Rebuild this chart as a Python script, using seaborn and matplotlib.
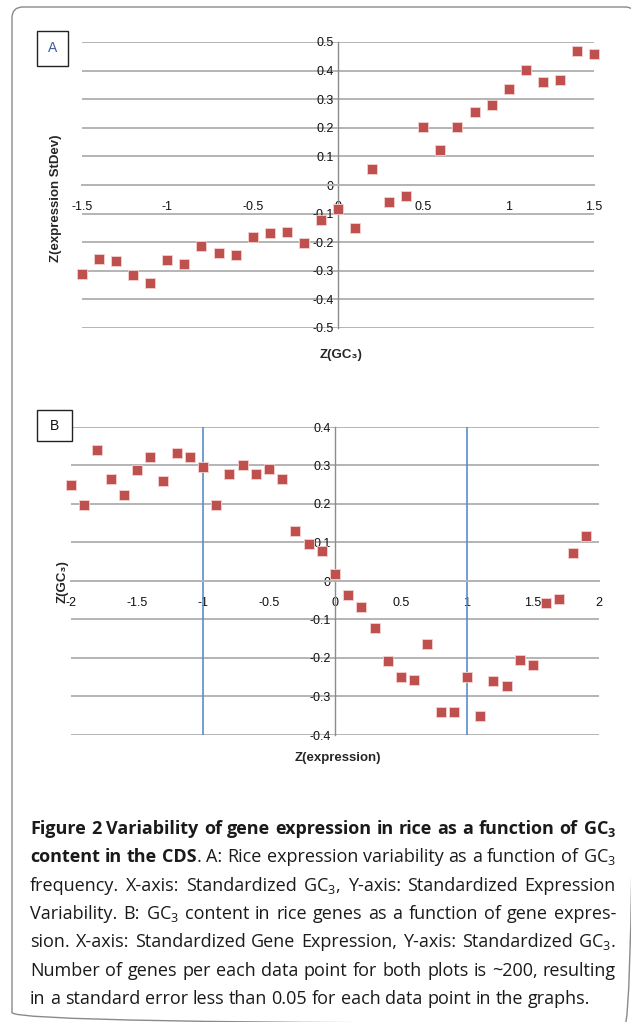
import matplotlib
matplotlib.use("Agg")
import matplotlib.pyplot as plt
import matplotlib.patches as mpatches
from matplotlib.ticker import FuncFormatter, FixedLocator
import seaborn as sns
import pandas as pd

# ---------------- data ----------------
a_gc3 = [-1.5, -1.4, -1.3, -1.2, -1.1, -1.0, -0.9, -0.8, -0.7, -0.6, -0.5, -0.4, -0.3, -0.2, -0.1,
         0.0, 0.1, 0.2, 0.3, 0.4, 0.5, 0.6, 0.7, 0.8, 0.9, 1.0, 1.1, 1.2, 1.3, 1.4, 1.5]
a_stdev = [-0.310, -0.258, -0.267, -0.313, -0.341, -0.263, -0.275, -0.212, -0.237, -0.245, -0.182,
           -0.169, -0.163, -0.203, -0.123, -0.083, -0.151, 0.057, -0.060, -0.039, 0.202, 0.123,
           0.202, 0.254, 0.281, 0.337, 0.403, 0.359, 0.366, 0.467, 0.459]

b_expr = [-2.0, -1.9, -1.8, -1.7, -1.6, -1.5, -1.4, -1.3, -1.2, -1.1, -1.0, -0.9, -0.8, -0.7, -0.6,
          -0.5, -0.4, -0.3, -0.2, -0.1, 0.0, 0.1, 0.2, 0.3, 0.4, 0.5, 0.6, 0.7, 0.8, 0.9, 1.0, 1.1,
          1.2, 1.3, 1.4, 1.5, 1.6, 1.7, 1.8, 1.9]
b_gc3 = [0.249, 0.198, 0.339, 0.265, 0.224, 0.289, 0.322, 0.260, 0.333, 0.323, 0.296, 0.198, 0.279,
         0.302, 0.279, 0.292, 0.266, 0.130, 0.097, 0.077, 0.017, -0.036, -0.067, -0.122, -0.207,
         -0.250, -0.257, -0.164, -0.339, -0.340, -0.250, -0.350, -0.260, -0.272, -0.205, -0.217,
         -0.056, -0.048, 0.072, 0.118]

a_xticks = [-1.5, -1.0, -0.5, 0.0, 0.5, 1.0, 1.5]
a_yticks = [-0.5, -0.4, -0.3, -0.2, -0.1, 0.0, 0.1, 0.2, 0.3, 0.4, 0.5]
b_xticks = [-2.0, -1.5, -1.0, -0.5, 0.0, 0.5, 1.0, 1.5, 2.0]
b_yticks = [-0.4, -0.3, -0.2, -0.1, 0.0, 0.1, 0.2, 0.3, 0.4]
b_vlines = [-1.0, 1.0]

a_xlabel = "Z(GC\u2083)"
a_ylabel = "Z(expression StDev)"
b_xlabel = "Z(expression)"
b_ylabel = "Z(GC\u2083)"

caption_lines = [
    [("Figure 2 Variability of gene expression in rice as a function of GC$_\\mathbf{3}$", "bold")],
    [("content in the CDS", "bold"), (". A: Rice expression variability as a function of GC$_3$", "normal")],
    [("frequency. X-axis: Standardized GC$_3$, Y-axis: Standardized Expression", "normal")],
    [("Variability. B: GC$_3$ content in rice genes as a function of gene expres-", "normal")],
    [("sion. X-axis: Standardized Gene Expression, Y-axis: Standardized GC$_3$.", "normal")],
    [("Number of genes per each data point for both plots is ~200, resulting", "normal")],
    [("in a standard error less than 0.05 for each data point in the graphs.", "normal")],
]

# ---------------- style ----------------
sns.set_style("white")
CHART_FONT = ["Liberation Sans", "DejaVu Sans"]
CAP_FONT = ["Open Sans", "DejaVu Sans"]
plt.rcParams["font.family"] = CHART_FONT
plt.rcParams["mathtext.fontset"] = "custom"
plt.rcParams["mathtext.rm"] = "Open Sans"
plt.rcParams["mathtext.it"] = "Open Sans:italic"
plt.rcParams["mathtext.bf"] = "Open Sans:bold"

W, H = 631, 1022
fig = plt.figure(figsize=(W / 100, H / 100), dpi=100, facecolor="white")

# background overlay axes in pixel coordinates
bg = fig.add_axes([0, 0, 1, 1], zorder=-5)
bg.set_xlim(0, W)
bg.set_ylim(H, 0)
bg.axis("off")

frame = mpatches.FancyBboxPatch((12, 7), 624, 1016.5, boxstyle="round,pad=0,rounding_size=11",
                                fc="none", ec="#8a8a8a", lw=1.0)
bg.add_patch(frame)

GRID = "#b4b4b4"
AXIS = "#8c8c8c"
MARK = "#c0504d"
fmt = FuncFormatter(lambda v, p: ("%g" % round(v, 2)))


def style_axes(ax, xlim, ylim, xt, yt):
    ax.set_xlim(*xlim)
    ax.set_ylim(*ylim)
    ax.set_facecolor("none")
    ax.xaxis.set_major_locator(FixedLocator(xt))
    ax.yaxis.set_major_locator(FixedLocator(yt))
    ax.xaxis.set_major_formatter(fmt)
    ax.yaxis.set_major_formatter(fmt)
    ax.yaxis.grid(True, color=GRID, lw=1.4, zorder=0)
    ax.xaxis.grid(False)
    for s in ["top", "right"]:
        ax.spines[s].set_visible(False)
    ax.spines["left"].set_position(("data", 0))
    ax.spines["bottom"].set_position(("data", 0))
    ax.spines["left"].set_color(AXIS)
    ax.spines["left"].set_linewidth(1.0)
    ax.spines["bottom"].set_color(GRID)
    ax.spines["bottom"].set_linewidth(1.4)
    ax.tick_params(axis="x", length=0, pad=11.5, labelsize=9, labelcolor="#111111")
    ax.tick_params(axis="y", length=0, pad=3, labelsize=9, labelcolor="#111111")
    ax.set_xlabel("")
    ax.set_ylabel("")


def px_axes(x0, x1, ytop, ybot):
    return fig.add_axes([x0 / W, 1 - ybot / H, (x1 - x0) / W, (ybot - ytop) / H])


# ---------------- panel A ----------------
axA = px_axes(82, 594, 42, 328)
dfA = pd.DataFrame({"gc3": a_gc3, "sd": a_stdev})
sns.scatterplot(data=dfA, x="gc3", y="sd", marker="s", s=44, color=MARK, edgecolor="#f3d2d1",
                linewidth=0.6, ax=axA, clip_on=False, zorder=5, legend=False)
style_axes(axA, (-1.5, 1.5), (-0.5, 0.5), a_xticks, a_yticks)

# ---------------- panel B ----------------
axB = px_axes(71, 599, 427, 735)
dfB = pd.DataFrame({"expr": b_expr, "gc3": b_gc3})
for xv in b_vlines:
    axB.axvline(xv, color="#5b8cc9", lw=1.2, zorder=2)
sns.scatterplot(data=dfB, x="expr", y="gc3", marker="s", s=44, color=MARK, edgecolor="#f3d2d1",
                linewidth=0.6, ax=axB, clip_on=False, zorder=5, legend=False)
style_axes(axB, (-2, 2), (-0.4, 0.4), b_xticks, b_yticks)

# axis titles (pixel coordinates on overlay)
bg.text(56, 198, a_ylabel, rotation=90, ha="center", va="center", fontsize=9.5,
        fontweight="bold", family=CHART_FONT)
bg.text(341, 355, a_xlabel, ha="center", va="center", fontsize=9.5, fontweight="bold",
        family=CHART_FONT)
bg.text(63, 582, b_ylabel, rotation=90, ha="center", va="center", fontsize=9.5,
        fontweight="bold", family=CHART_FONT)
bg.text(338, 758, b_xlabel, ha="center", va="center", fontsize=9.5, fontweight="bold",
        family=CHART_FONT)

# panel letter boxes
bg.add_patch(mpatches.Rectangle((37, 31), 31, 35, fc="white", ec="#222222", lw=1.0, zorder=3))
bg.text(52.5, 48.5, "A", ha="center", va="center", fontsize=10, color="#3f5c9e",
        family=CHART_FONT, zorder=4)
bg.add_patch(mpatches.Rectangle((37, 410), 35, 31, fc="white", ec="#222222", lw=1.0, zorder=3))
bg.text(54.5, 426, "B", ha="center", va="center", fontsize=10, color="#111111",
        family=CHART_FONT, zorder=4)

bg.set_zorder(6)
bg.patch.set_visible(False)

# ---------------- caption (justified) ----------------
fig.canvas.draw()
renderer = fig.canvas.get_renderer()
BASE_SIZE = 10.0
LEFT, RIGHT = 30, 616
LAST_RIGHT = 593
BASE0, STEP = 834, 28.3


def measure(txt, weight, size):
    t = bg.text(0, 0, txt, fontsize=size, fontweight=weight, family=CAP_FONT)
    w = t.get_window_extent(renderer).width
    t.remove()
    return w


def tokenize(line):
    words = []
    for seg_i, (seg, weight) in enumerate(line):
        parts = seg.split(" ")
        for j, p in enumerate(parts):
            if p == "":
                continue
            if j == 0 and seg_i > 0 and not seg.startswith(" ") and words:
                words[-1].append((p, weight))
            else:
                words.append([(p, weight)])
    return words


def natural_width(line, size):
    words = tokenize(line)
    sp = measure("a a", "normal", size) - measure("aa", "normal", size)
    tot = sum(measure(p, w, size) for word in words for p, w in word)
    return tot + sp * (len(words) - 1)


# fit font size: last line natural width matches reference, other lines must fit
nat_last = natural_width(caption_lines[-1], BASE_SIZE)
size_last = BASE_SIZE * (LAST_RIGHT - LEFT) / nat_last
nat_max = max(natural_width(l, BASE_SIZE) for l in caption_lines[:-1])
size_fit = BASE_SIZE * (RIGHT - LEFT) / nat_max * 1.02
CAP_SIZE = min(size_last, size_fit)

for i, line in enumerate(caption_lines):
    words = tokenize(line)
    widths = [[measure(p, w, CAP_SIZE) for p, w in word] for word in words]
    totals = [sum(ws) for ws in widths]
    last = i == len(caption_lines) - 1
    if last:
        gap = measure("a a", "normal", CAP_SIZE) - measure("aa", "normal", CAP_SIZE)
    else:
        gap = (RIGHT - LEFT - sum(totals)) / (len(words) - 1)
    x = LEFT
    y = BASE0 + STEP * i
    for word, ws in zip(words, widths):
        xx = x
        for (p, w), pw in zip(word, ws):
            bg.text(xx, y, p, fontsize=CAP_SIZE, fontweight=w, family=CAP_FONT,
                    ha="left", va="baseline", color="#1a1a1a")
            xx += pw
        x = xx + gap

fig.savefig("out.png", dpi=100, facecolor="white")
